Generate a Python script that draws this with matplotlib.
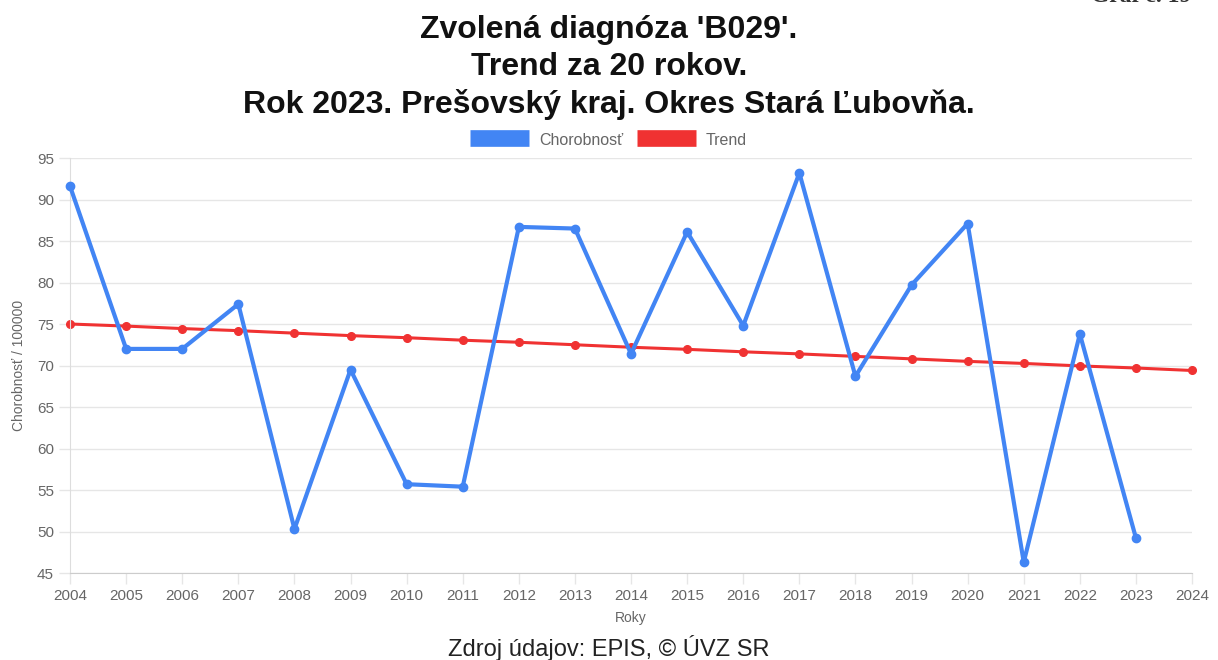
import numpy as np
import matplotlib.pyplot as plt

plt.rcParams['font.family'] = ['Liberation Sans', 'DejaVu Sans']

# Data
years = [2004, 2005, 2006, 2007, 2008, 2009, 2010, 2011, 2012, 2013,
         2014, 2015, 2016, 2017, 2018, 2019, 2020, 2021, 2022, 2023]
chorobnost = [91.6, 72.0, 72.0, 77.4, 50.3, 69.5, 55.7, 55.4, 86.7, 86.5,
              71.4, 86.1, 74.8, 93.2, 68.7, 79.7, 87.1, 46.3, 73.8, 49.2]
trend_years = years + [2024]
trend = [75.0, 74.75, 74.45, 74.2, 73.9, 73.6, 73.35, 73.05, 72.8, 72.5,
         72.2, 71.95, 71.65, 71.4, 71.1, 70.8, 70.5, 70.25, 69.95, 69.7, 69.4]
yticks = list(range(45, 100, 5))

blue = '#4285f4'
red = '#f03232'
gray = '#666666'
grid = '#e6e6e6'

fig = plt.figure(figsize=(12.18, 6.6), dpi=100)
ax = fig.add_axes([0.0575, 0.1318, 0.9212, 0.6288])

ax.plot(years, chorobnost, color=blue, lw=3, marker='o', ms=6, zorder=3,
        label='Chorobnosť', clip_on=False)
ax.plot(trend_years, trend, color=red, lw=2.2, marker='o', ms=5.5, zorder=2,
        label='Trend', clip_on=False)

ax.set_xlim(2004, 2024)
ax.set_ylim(45, 95)
ax.set_xticks(trend_years)
ax.set_yticks(yticks)
ax.grid(True, axis='y', color=grid, lw=1)
ax.set_axisbelow(True)
ax.tick_params(colors=grid, labelcolor=gray, labelsize=11, length=8, width=1)
for side in ['top', 'right']:
    ax.spines[side].set_visible(False)
ax.spines['left'].set_color('#dddddd')
ax.spines['bottom'].set_color('#cccccc')

ax.set_xlabel('Roky', color=gray, fontsize=10, labelpad=6)
ax.set_ylabel('Chorobnosť / 100000', color=gray, fontsize=10, labelpad=8)

# legend is centred on the whole canvas, not on the axes
leg = ax.legend(loc='lower center', bbox_to_anchor=(0.48, 0.99), ncol=2,
                frameon=False, handlelength=3.7, handleheight=1.1,
                columnspacing=0.9, handletextpad=0.6, fontsize=11.5)
for h in leg.legend_handles:
    h.set_linewidth(12)
    h.set_solid_capstyle('butt')
    h.set_marker('')
for t in leg.get_texts():
    t.set_color(gray)

title_kw = dict(ha='center', va='center', fontsize=23, fontweight='bold',
                color='#111111')
fig.text(0.5, 0.955, "Zvolená diagnóza 'B029'.", **title_kw)
fig.text(0.5, 0.898, 'Trend za 20 rokov.', **title_kw)
fig.text(0.5, 0.841, 'Rok 2023. Prešovský kraj. Okres Stará Ľubovňa.', **title_kw)
fig.text(0.5, 0.018, 'Zdroj údajov: EPIS, © ÚVZ SR', ha='center', va='center',
         fontsize=17, color='#222222')
fig.text(0.978, 1.006, 'Graf č. 19', ha='right', va='center', fontsize=17,
         fontweight='bold', family='Liberation Serif', color='#333333')

fig.savefig('out.png', dpi=100)
